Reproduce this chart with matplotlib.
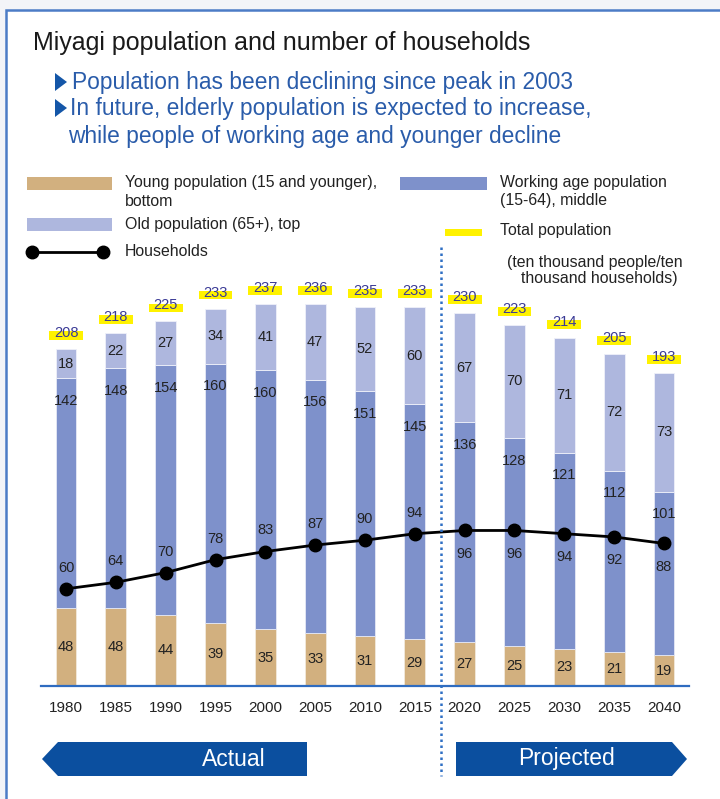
import matplotlib
matplotlib.use("Agg")
import matplotlib.pyplot as plt
from matplotlib.patches import Rectangle, Polygon
from matplotlib.lines import Line2D
import numpy as np

plt.rcParams['font.family'] = ['Liberation Sans', 'DejaVu Sans']

years = ["1980", "1985", "1990", "1995", "2000", "2005", "2010", "2015",
         "2020", "2025", "2030", "2035", "2040"]
young = [48, 48, 44, 39, 35, 33, 31, 29, 27, 25, 23, 21, 19]
working = [142, 148, 154, 160, 160, 156, 151, 145, 136, 128, 121, 112, 101]
old = [18, 22, 27, 34, 41, 47, 52, 60, 67, 70, 71, 72, 73]
total = [208, 218, 225, 233, 237, 236, 235, 233, 230, 223, 214, 205, 193]
households = [60, 64, 70, 78, 83, 87, 90, 94, 96, 96, 94, 92, 88]

W, H = 720, 799
fig = plt.figure(figsize=(W / 100, H / 100), dpi=100)
fig.patch.set_facecolor('#f3f4f8')


def fx(x):
    return x / W


def fy(y):
    return 1 - y / H


# white panel with blue border
fig.add_artist(Rectangle((fx(5.5), fy(840)), fx(800), 840 / H - 9.5 / H,
                         transform=fig.transFigure, facecolor='white',
                         edgecolor='#4c7cc6', lw=1.8, zorder=0))

C_YOUNG = '#d2b07f'
C_WORK = '#7e91cb'
C_OLD = '#aeb7de'
C_YEL = '#fff200'
C_TOT = '#3a3a96'
C_BLUE = '#0b4f9f'

# title & subtitle
fig.text(fx(33), fy(43), "Miyagi population and number of households",
         fontsize=18, color='#1a1a1a', va='center', ha='left')
sub_col = '#2a5caa'
for (xt, yy) in [(55, 82), (55, 108)]:
    fig.add_artist(Polygon([[fx(xt), fy(yy - 9)], [fx(xt), fy(yy + 9)],
                            [fx(xt + 12), fy(yy)]], closed=True,
                           transform=fig.transFigure, color='#1456a8', lw=0))
fig.text(fx(72), fy(82), "Population has been declining since peak in 2003",
         fontsize=16.4, color=sub_col, va='center', ha='left')
fig.text(fx(70), fy(108), "In future, elderly population is expected to increase,",
         fontsize=16.4, color=sub_col, va='center', ha='left')
fig.text(fx(68), fy(136), "while people of working age and younger decline",
         fontsize=16.4, color=sub_col, va='center', ha='left')

# legend
leg_fs = 11.4
def leg_rect(x0, y0, x1, y1, col):
    fig.add_artist(Rectangle((fx(x0), fy(y1)), fx(x1 - x0), (y1 - y0) / H,
                             transform=fig.transFigure, facecolor=col, lw=0))

leg_rect(27, 177, 112, 190, C_YOUNG)
fig.text(fx(125), fy(183), "Young population (15 and younger),", fontsize=leg_fs,
         color='#222222', va='center')
fig.text(fx(125), fy(201), "bottom", fontsize=leg_fs, color='#222222', va='center')
leg_rect(400, 177, 487, 190, C_WORK)
fig.text(fx(500), fy(183), "Working age population", fontsize=leg_fs,
         color='#222222', va='center')
fig.text(fx(500), fy(201), "(15-64), middle", fontsize=leg_fs, color='#222222',
         va='center')
leg_rect(27, 218, 112, 231, C_OLD)
fig.text(fx(125), fy(224), "Old population (65+), top", fontsize=leg_fs,
         color='#222222', va='center')
leg_rect(445, 229, 482, 236, C_YEL)
fig.text(fx(500), fy(231), "Total population", fontsize=leg_fs, color='#222222',
         va='center')
fig.add_artist(Line2D([fx(32), fx(103)], [fy(252), fy(252)], transform=fig.transFigure,
                      color='black', lw=2, marker='o', markersize=9))
fig.text(fx(125), fy(252), "Households", fontsize=leg_fs, color='#222222', va='center')
fig.text(fx(507), fy(263), "(ten thousand people/ten", fontsize=leg_fs,
         color='#222222', va='center')
fig.text(fx(521), fy(279), "thousand households)", fontsize=leg_fs,
         color='#222222', va='center')

# main axes
PX_PER_UNIT = 1.62
left_px, right_px, base_px, top_px = 41.1, 688.9, 686, 280
ax = fig.add_axes([fx(left_px), fy(base_px), (right_px - left_px) / W,
                   (base_px - top_px) / H])
ax.set_facecolor('none')
ax.set_xlim(-0.5, len(years) - 0.5)
ax.set_ylim(0, (base_px - top_px) / PX_PER_UNIT)
for s in ['top', 'right', 'left']:
    ax.spines[s].set_visible(False)
ax.spines['bottom'].set_color('#2f6cc0')
ax.spines['bottom'].set_linewidth(1.6)
ax.set_yticks([])
x = np.arange(len(years))
ax.set_xticks(x)
ax.set_xticklabels(years, fontsize=11, color='#222222')
ax.tick_params(axis='x', length=0, pad=11)

bw = 0.42
young_a = np.array(young)
work_a = np.array(working)
old_a = np.array(old)
ax.bar(x, young_a, bw, color=C_YOUNG, edgecolor='#f2eadc', lw=0.6, zorder=2)
ax.bar(x, work_a, bw, bottom=young_a, color=C_WORK, edgecolor='#e6e9f5', lw=0.6, zorder=2)
ax.bar(x, old_a, bw, bottom=young_a + work_a, color=C_OLD, edgecolor='#eef0f9', lw=0.6,
       zorder=2)

lab_fs = 10.5
for i in range(len(years)):
    ax.text(x[i], young_a[i] / 2, str(young[i]), ha='center', va='center',
            fontsize=lab_fs, color='#222222', zorder=5)
    ax.text(x[i], young_a[i] + work_a[i] - 14, str(working[i]), ha='center',
            va='center', fontsize=lab_fs, color='#222222', zorder=5)
    ax.text(x[i], young_a[i] + work_a[i] + old_a[i] / 2, str(old[i]), ha='center',
            va='center', fontsize=lab_fs, color='#222222', zorder=5)
    top = young_a[i] + work_a[i] + old_a[i]
    ax.add_patch(Rectangle((x[i] - 0.34, top + 5.6), 0.68, 5.5, facecolor=C_YEL,
                           lw=0, zorder=3))
    ax.text(x[i], top + 9.9, str(total[i]), ha='center', va='center',
            fontsize=lab_fs, color=C_TOT, zorder=5)

ax.plot(x, households, color='black', lw=2, marker='o', markersize=9, zorder=4)
for i in range(len(years)):
    off = 13 if i < 8 else -14.5
    ax.text(x[i], households[i] + off, str(households[i]), ha='center', va='center',
            fontsize=lab_fs, color='#222222', zorder=5)

# dotted divider
fig.add_artist(Line2D([fx(441), fx(441)], [fy(247), fy(776)], transform=fig.transFigure,
                      color='#2e6fc4', lw=1.8, linestyle=(0, (1, 1.4))))

# arrows
fig.add_artist(Polygon([[fx(42), fy(759)], [fx(58), fy(742)], [fx(307), fy(742)],
                        [fx(307), fy(776)], [fx(58), fy(776)]], closed=True,
                       transform=fig.transFigure, color=C_BLUE, lw=0))
fig.add_artist(Polygon([[fx(456), fy(742)], [fx(672), fy(742)], [fx(687), fy(759)],
                        [fx(672), fy(776)], [fx(456), fy(776)]], closed=True,
                       transform=fig.transFigure, color=C_BLUE, lw=0))
fig.text(fx(234), fy(759), "Actual", fontsize=16.5, color='white', ha='center',
         va='center')
fig.text(fx(566), fy(759), "Projected", fontsize=16.5, color='white', ha='center',
         va='center')

fig.savefig('out.png', dpi=100, facecolor=fig.get_facecolor())
